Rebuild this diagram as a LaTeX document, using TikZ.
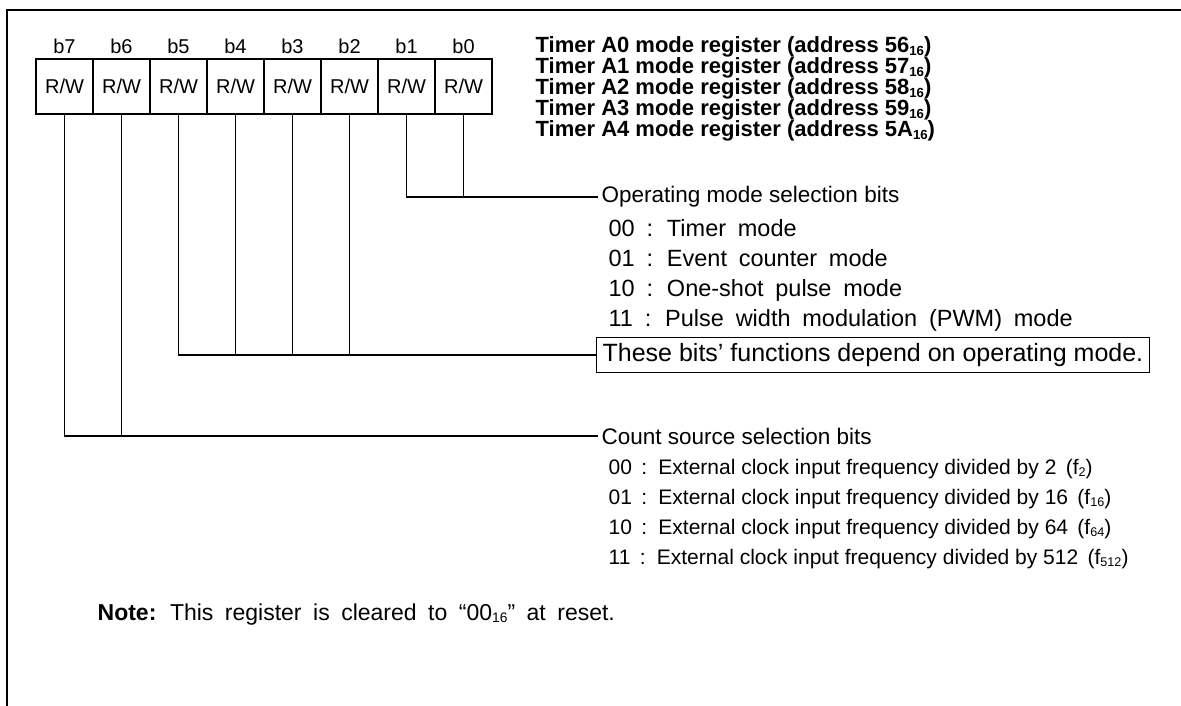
\documentclass[tikz,border=0pt]{standalone}
\usepackage{fontspec}
\setmainfont{Liberation Sans}
\newcommand{\lowsub}[1]{\raisebox{-0.1em}{\scalebox{0.6}{#1}}}
\newcommand{\widespaces}{\spaceskip=0.5em\relax}
\tikzset{
  regcell/.style={draw, minimum width=57pt, minimum height=55pt, inner sep=0pt, font=\fontsize{20}{22}\selectfont},
  bitlabel/.style={inner sep=0pt, font=\fontsize{20}{22}\selectfont},
  regname/.style={anchor=base west, inner sep=0pt, font=\bfseries\fontsize{22}{22}\selectfont},
  fieldname/.style={anchor=west, inner sep=3pt, font=\fontsize{22.5}{24}\selectfont},
  fieldval/.style={anchor=base west, inner sep=0pt, font={\fontsize{23.5}{24}\selectfont\widespaces}},
  srcval/.style={anchor=base west, inner sep=0pt, font=\fontsize{21}{22}\selectfont},
  notebox/.style={draw, anchor=west, inner sep=6pt, font=\fontsize{25}{26}\selectfont},
  noteline/.style={anchor=base west, inner sep=0pt, font={\fontsize{23}{24}\selectfont\widespaces}},
}
\begin{document}
\begin{tikzpicture}[x=1pt, y=-1pt, line width=1.3pt]
\useasboundingbox (0,0) rectangle (1181,706);
\clip (0,0) rectangle (1181,706);
\draw[line width=2pt] (7,10) rectangle (1230,760);
\foreach \i in {7,...,0} {
  \node[regcell] (c\i) at ({64.5+57*(7-\i)},86.5) {R/W};
  \node[bitlabel] (b\i) at ({64.5+57*(7-\i)},46) {b\i};
}
\node[regname] (ta0) at (535,53) {Timer A0 mode register (address 56\lowsub{16})};
\node[regname] (ta1) at (535,74) {Timer A1 mode register (address 57\lowsub{16})};
\node[regname] (ta2) at (535,95) {Timer A2 mode register (address 58\lowsub{16})};
\node[regname] (ta3) at (535,116) {Timer A3 mode register (address 59\lowsub{16})};
\node[regname] (ta4) at (535,137) {Timer A4 mode register (address 5A\lowsub{16})};

\node[fieldname] (opmode) at (598,197) {Operating mode selection bits};
\node[fieldval] (op0) at (608,236) {00 : Timer mode};
\node[fieldval] (op1) at (608,266) {01 : Event counter mode};
\node[fieldval] (op2) at (608,296) {10 : One-shot pulse mode};
\node[fieldval] (op3) at (608,326) {11 : Pulse width modulation (PWM) mode};
\draw (c1.south) |- (opmode.west);
\draw (c0.south) -- (c0.south |- opmode.west);

\node[notebox] (depend) at (596,355) {These bits' functions depend on operating mode.};
\draw (c5.south) |- (depend.west);
\draw (c4.south) -- (c4.south |- depend.west);
\draw (c3.south) -- (c3.south |- depend.west);
\draw (c2.south) -- (c2.south |- depend.west);

\node[fieldname] (cntsrc) at (598,436) {Count source selection bits};
\node[srcval] (cs0) at (608,474) {00 \,:\, External clock input frequency divided by 2 \,(f\lowsub{2})};
\node[srcval] (cs1) at (608,504) {01 \,:\, External clock input frequency divided by 16 \,(f\lowsub{16})};
\node[srcval] (cs2) at (608,534) {10 \,:\, External clock input frequency divided by 64 \,(f\lowsub{64})};
\node[srcval] (cs3) at (608,564) {11 \,:\, External clock input frequency divided by 512 \,(f\lowsub{512})};
\draw (c7.south) |- (cntsrc.west);
\draw (c6.south) -- (c6.south |- cntsrc.west);

\node[noteline] (note) at (97,620) {\textbf{Note:} This register is cleared to ``00\lowsub{16}'' at reset.};
\end{tikzpicture}
\end{document}
